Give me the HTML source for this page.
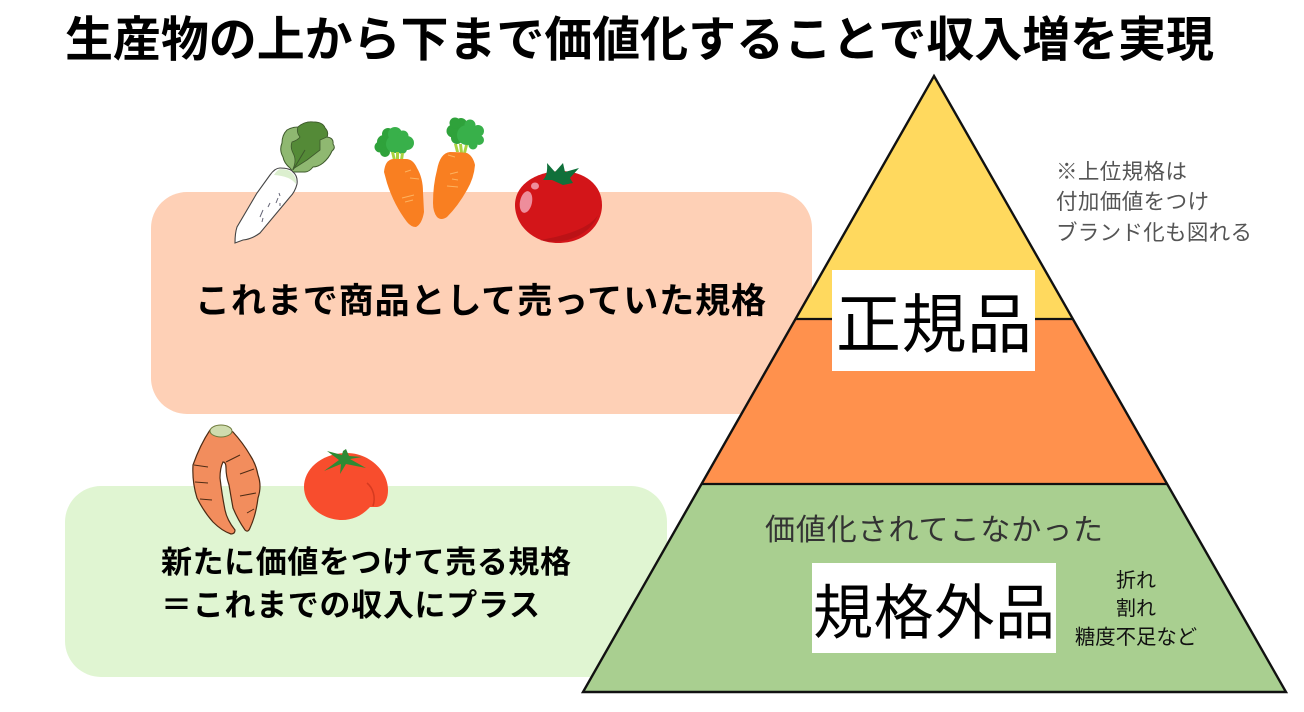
<!DOCTYPE html>
<html lang="ja"><head><meta charset="utf-8"><style>
html,body{margin:0;padding:0;background:#fff}
svg{display:block}
text{font-family:"Liberation Sans","Noto Sans CJK JP",sans-serif}
</style></head><body>
<svg width="1304" height="712" viewBox="0 0 1304 712" xmlns="http://www.w3.org/2000/svg">
<rect width="1304" height="712" fill="#fff"/>
<rect x="151" y="192" width="661" height="222" rx="36" fill="#fed0b6"/>
<rect x="65" y="486" width="602" height="191" rx="36" fill="#e0f5d2"/>

<!-- pyramid -->
<polygon points="934,76 1073,319 796,319" fill="#ffd95e"/>
<polygon points="796,319 1073,319 1168,484 702,484" fill="#ff914d"/>
<polygon points="702,484 1168,484 1286,692 583,692" fill="#a9cf90"/>
<polygon points="934,76 1286,692 583,692" fill="none" stroke="#111" stroke-width="2.4" stroke-linejoin="miter"/>
<line x1="796" y1="319" x2="1073" y2="319" stroke="#111" stroke-width="2.2"/>
<line x1="702" y1="484" x2="1168" y2="484" stroke="#111" stroke-width="2.2"/>
<rect x="832" y="270" width="203" height="101" fill="#fff"/>
<rect x="812" y="563" width="244" height="90" fill="#fff"/>

<!-- text -->
<text x="65" y="56" font-size="48" font-weight="700" fill="#000" textLength="1149" lengthAdjust="spacing">生産物の上から下まで価値化することで収入増を実現</text>
<text x="195" y="313" font-size="35" font-weight="700" fill="#000" textLength="571" lengthAdjust="spacing">これまで商品として売っていた規格</text>
<text x="161" y="573" font-size="31" font-weight="700" fill="#000" textLength="410" lengthAdjust="spacing">新たに価値をつけて売る規格</text>
<text x="161" y="616" font-size="31" font-weight="700" fill="#000" textLength="379" lengthAdjust="spacing">＝これまでの収入にプラス</text>
<text x="836" y="347" font-size="65" fill="#000" textLength="196" lengthAdjust="spacing">正規品</text>
<text x="813" y="634" font-size="60" fill="#000" textLength="242" lengthAdjust="spacing">規格外品</text>
<text x="765" y="540" font-size="30" fill="#333" textLength="338" lengthAdjust="spacing">価値化されてこなかった</text>
<text x="1136" y="587" font-size="20" fill="#111" text-anchor="middle">折れ</text>
<text x="1136" y="615" font-size="20" fill="#111" text-anchor="middle">割れ</text>
<text x="1136" y="644" font-size="20.4" fill="#111" text-anchor="middle">糖度不足など</text>
<text x="1056" y="179" font-size="21.5" fill="#555" textLength="131" lengthAdjust="spacing">※上位規格は</text>
<text x="1056" y="209" font-size="21.5" fill="#555" textLength="153" lengthAdjust="spacing">付加価値をつけ</text>
<text x="1056" y="240" font-size="21.5" fill="#555" textLength="196" lengthAdjust="spacing">ブランド化も図れる</text>

<!-- daikon -->
<g>
<path d="M287,130 Q292,127 298,127 Q305,121 313,122 Q323,122 325,128 Q329,132 327,137 Q334,138 333,144 Q336,148 332,151 Q329,158 323,163 Q318,167 313,167 Q309,172 305,172 L293,172 L290,168 Q284,163 283,157 Q279,150 282,143 Q282,135 287,130 Z" fill="#8fb871" stroke="#3e5a2c" stroke-width="1"/>
<path d="M298,127 Q305,121 313,122 Q323,122 325,128 Q329,132 327,137 L320,140 L320,150 L307,160 L293,169 Q297,160 293,153 Q290,147 292,142 Q298,140 300,137 Q296,132 298,127 Z" fill="#548a37" stroke="#3e5a2c" stroke-width=".8"/>
<path d="M293,170 L305,150" stroke="#3e5a2c" stroke-width="1"/>
<path d="M235,243 Q235,233 237,227 L257,193 L270,175 Q275,168 280,168 Q290,168 293,172 Q298,176 297,184 Q295,192 290,197 L260,233 Q252,239 243,240 Z" fill="#fff" stroke="#444" stroke-width="1.1"/>
<path d="M280,169 Q289,169 292,173 Q297,177 296,184 Q290,176 274,175 Q277,170 280,169 Z" fill="#dcefcf"/>
<path d="M260,217 l3,-7 M268,207 l2,-4 M276,203 l2,-5 M280,196 l-1,-3 M262,222 l1,-4 M280,206 l0,-3" stroke="#667" stroke-width="1"/>
</g>

<!-- carrots -->
<g>
<g fill="#2fa23b"><circle cx="384" cy="142" r="7"/><circle cx="380" cy="147" r="5.5"/><circle cx="388" cy="134" r="6"/><circle cx="385" cy="152" r="5"/></g>
<g fill="#38b04a"><circle cx="395" cy="134" r="7"/><circle cx="403" cy="136" r="5.5"/><circle cx="407" cy="143" r="7"/><circle cx="395" cy="144" r="9"/><circle cx="402" cy="149" r="5"/></g>
<path d="M393,160 l-2,-8 l3,0 l2,8 M396,160 l0,-8 l3,0 l0,8 M400,160 l1,-7 l3,0 l-1,7" fill="#a9d23f"/>
<path d="M384,172 Q385,160 393,159 L406,159 Q413,159 417,168 Q423,178 423,192 L424,212 Q422,224 416,227 Q411,227 407,222 Q394,205 387,183 Z" fill="#f97f21"/>
<path d="M405,172 l6,-2 M410,178 l9,1 M402,198 l12,-3 M405,202 l8,-2" stroke="#fdb25f" stroke-width="1" fill="none"/>
<g fill="#2fa23b"><circle cx="453" cy="131" r="6.5"/><circle cx="461" cy="124" r="6"/><circle cx="455" cy="123" r="5.5"/><circle cx="457" cy="138" r="6"/></g>
<g fill="#38b04a"><circle cx="470" cy="125" r="5.5"/><circle cx="478" cy="131" r="6"/><circle cx="479" cy="140" r="5"/><circle cx="467" cy="135" r="10"/><circle cx="473" cy="145" r="4.5"/></g>
<path d="M456,152 l-2,-8 l3,0 l2,8 M460,153 l-1,-9 l3,0 l1,9 M463,153 l2,-8 l3,0 l-2,8" fill="#a9d23f"/>
<path d="M437,170 Q440,153 450,152 Q460,152 467,153 Q473,156 475,165 Q474,178 467,190 Q458,206 447,217 Q441,221 437,217 Q433,212 433,203 Q433,185 437,170 Z" fill="#f97f21"/>
<path d="M448,155 l7,2 M458,172 l-8,2 M458,180 l-6,-1 M447,186 l11,1" stroke="#fdb25f" stroke-width="1" fill="none"/>
</g>

<!-- tomato -->
<g>
<path d="M515,205 C515,185 535,172 560,171 C585,171 602,185 602,205 C602,225 585,243 558,243 C533,243 515,225 515,205 Z" fill="#d31519"/>
<path d="M540,240 C565,246 590,235 598,215 C590,228 565,236 540,240 Z" fill="#bb1216"/>
<ellipse cx="526" cy="202" rx="6" ry="11" transform="rotate(12 526 202)" fill="#ee8d9b"/>
<ellipse cx="535" cy="186" rx="4" ry="3.5" fill="#ee8d9b"/>
<path d="M547,163 L555,172 L563,163 L565,172 L579,168 L570,178 L573,183 L563,185 L552,180 L543,180 Q548,175 547,163 Z" fill="#10703a"/>
</g>

<!-- misshapen carrot -->
<path d="M210,430 Q200,445 193,465 Q192,482 197,498 Q204,512 213,522 Q222,531 231,534 Q235,534 235,530 Q227,520 225,510 Q222,495 220,478 Q220,468 223,462 Q226,462 226,468 Q226,476 229,485 Q231,497 233,508 Q238,520 245,530 Q248,533 250,528 Q256,515 258,498 Q262,486 258,475 Q256,464 250,455 Q243,443 233,432 Q222,424 210,430 Z" fill="#f28d5d" stroke="#4d2b14" stroke-width="1.2"/>
<ellipse cx="221" cy="431" rx="11" ry="6" fill="#cfdcae" stroke="#6e7a3c" stroke-width="1"/>
<path d="M194,465 l14,2 M195,482 l13,1 M200,499 l12,1 M226,462 l14,-7 M240,474 l14,-5 M240,496 l16,-3 M247,513 l7,-4" stroke="#4d2b14" stroke-width="1" fill="none"/>

<!-- misshapen tomato -->
<path d="M304,487 C304,470 320,454 345,453 C368,452 388,470 388,490 C388,500 384,506 377,507 L370,507 C362,516 352,520 342,520 C322,520 304,505 304,487 Z" fill="#f84d2d"/>
<path d="M367,483 C373,488 376,497 373,506" fill="none" stroke="#d53a20" stroke-width="1.5"/>
<path d="M342,455 L327,451 L339,460 L324,471 L341,464 L340,474 L346,464 L366,468 L350,459 L362,457 L349,456 L346,449 L343,451 Z" fill="#2e8a33"/>
</svg>
</body></html>
